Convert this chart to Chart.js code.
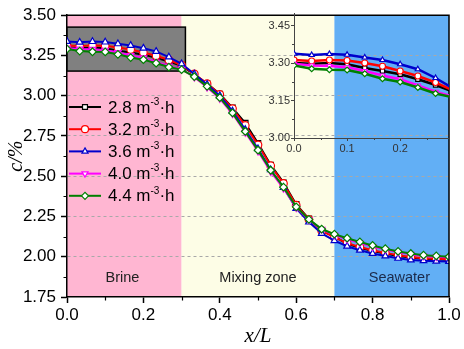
<!DOCTYPE html>
<html>
<head>
<meta charset="utf-8">
<script src="https://cdn.jsdelivr.net/npm/chart.js@4.4.0/dist/chart.umd.min.js"></script>
<style>
  body { margin: 0; background: #fff; }
  #wrap { position: relative; width: 464px; height: 349px; }
  #wrap canvas { position: absolute; left: 0; top: 0; }
  #inset { pointer-events: none; }
</style>
</head>
<body>
<div id="wrap">
  <canvas id="main" width="464" height="349"></canvas>
  <canvas id="inset" width="464" height="349"></canvas>
</div>
<script>
// positions along the column, x/L
const xPos = [0, 0.0333, 0.0667, 0.1, 0.1333, 0.1667, 0.2, 0.2333, 0.2667, 0.3,
  0.3333, 0.3667, 0.4, 0.4333, 0.4667, 0.5, 0.5333, 0.5667, 0.6, 0.6333,
  0.6667, 0.7, 0.7333, 0.7667, 0.8, 0.8333, 0.8667, 0.9, 0.9333, 0.9667, 1.0];

const flowLabels = ['2.8', '3.2', '3.6', '4.0', '4.4'];

const c28 = [3.300, 3.297, 3.300, 3.295, 3.280, 3.268, 3.255, 3.235, 3.212, 3.185,
  3.132, 3.075, 3.010, 2.925, 2.830, 2.705, 2.570, 2.460, 2.325, 2.235,
  2.160, 2.125, 2.080, 2.055, 2.035, 2.020, 2.005, 1.995, 1.988, 1.985, 1.982];
const c32 = [3.312, 3.308, 3.312, 3.310, 3.300, 3.287, 3.268, 3.248, 3.222, 3.190,
  3.135, 3.075, 3.008, 2.920, 2.815, 2.695, 2.565, 2.455, 2.320, 2.232,
  2.162, 2.120, 2.085, 2.060, 2.040, 2.024, 2.010, 1.998, 1.990, 1.987, 1.985];
const c36 = [3.337, 3.332, 3.336, 3.333, 3.322, 3.312, 3.295, 3.275, 3.240, 3.198,
  3.135, 3.070, 3.000, 2.905, 2.790, 2.670, 2.540, 2.430, 2.300, 2.215,
  2.145, 2.100, 2.065, 2.040, 2.020, 2.005, 1.990, 1.980, 1.975, 1.972, 1.970];
const c40 = [3.297, 3.290, 3.288, 3.283, 3.268, 3.250, 3.235, 3.210, 3.185, 3.165,
  3.115, 3.052, 2.982, 2.888, 2.772, 2.655, 2.528, 2.425, 2.305, 2.230,
  2.170, 2.135, 2.108, 2.085, 2.063, 2.045, 2.028, 2.015, 2.005, 2.000, 1.995];
const c44 = [3.290, 3.277, 3.273, 3.272, 3.257, 3.237, 3.224, 3.202, 3.178, 3.162,
  3.118, 3.058, 2.988, 2.893, 2.778, 2.662, 2.537, 2.432, 2.310, 2.232,
  2.172, 2.140, 2.115, 2.092, 2.070, 2.050, 2.033, 2.020, 2.010, 2.005, 2.000];

const zoneEdges = [0, 0.3, 0.7, 1.0];
const zoneNames = ['Brine', 'Mixing zone', 'Seawater'];
const zoneLabelX = [0.145, 0.5, 0.87];
const zoomBox = { x0: 0, x1: 0.31, y0: 3.153, y1: 3.426 };

const series = [c28, c32, c36, c40, c44];
const colors = ['#000000', '#ff0000', '#0000cc', '#ff00ff', '#008000'];
const pointStyles = ['rect', 'circle', 'triangle', 'triangle', 'rectRot'];
const rotations = [0, 0, 0, 180, 0];
const zoneColors = ['#ffb6d2', '#fdfde6', '#62aff5'];
const zoneText = ['#222', '#222', '#1b2a4a'];

const SANS = "'Liberation Sans', Arial, sans-serif";
const SERIF = "'Liberation Serif', 'Times New Roman', serif";

function makeDatasets(radius, width) {
  return series.map((vals, i) => ({
    label: flowLabels[i] + ' m⁻³·h',
    data: xPos.map((x, k) => ({ x: x, y: vals[k] })),
    borderColor: colors[i],
    borderWidth: width,
    pointStyle: pointStyles[i],
    pointRotation: rotations[i],
    pointRadius: radius,
    pointBorderWidth: 1.2,
    pointBackgroundColor: '#ffffff',
    pointBorderColor: colors[i],
    tension: 0,
    order: 4 - i
  }));
}

function minorTicks(ctx, a, x, y, yVals, xVals, len) {
  ctx.beginPath();
  yVals.forEach(v => {
    const py = Math.round(y.getPixelForValue(v)) + 0.5;
    ctx.moveTo(a.left, py); ctx.lineTo(a.left - len, py);
  });
  xVals.forEach(v => {
    const px = Math.round(x.getPixelForValue(v)) + 0.5;
    ctx.moveTo(px, a.bottom); ctx.lineTo(px, a.bottom + len);
  });
  ctx.stroke();
}

const decor = {
  id: 'decor',
  beforeDraw(chart) {
    const { ctx, chartArea: a, scales: { x } } = chart;
    ctx.save();
    for (let i = 0; i < zoneNames.length; i++) {
      const l = x.getPixelForValue(zoneEdges[i]);
      const r = x.getPixelForValue(zoneEdges[i + 1]);
      ctx.fillStyle = zoneColors[i];
      ctx.fillRect(l, a.top, r - l, a.bottom - a.top);
    }
    ctx.restore();
  },
  beforeDatasetsDraw(chart) {
    const { ctx, scales: { x, y } } = chart;
    const l = x.getPixelForValue(zoomBox.x0), r = x.getPixelForValue(zoomBox.x1);
    const t = y.getPixelForValue(zoomBox.y1), b = y.getPixelForValue(zoomBox.y0);
    ctx.save();
    ctx.fillStyle = '#808080';
    ctx.fillRect(l, t, r - l, b - t);
    ctx.strokeStyle = '#000';
    ctx.lineWidth = 1.5;
    ctx.strokeRect(l, t, r - l, b - t);
    ctx.restore();
  },
  afterDraw(chart) {
    const { ctx, chartArea: a, scales: { x, y } } = chart;
    ctx.save();
    // zone labels
    ctx.font = '14.5px ' + SANS;
    ctx.textAlign = 'center';
    ctx.textBaseline = 'middle';
    zoneNames.forEach((n, i) => {
      ctx.fillStyle = zoneText[i];
      ctx.fillText(n, x.getPixelForValue(zoneLabelX[i]), y.getPixelForValue(1.87));
    });
    // top and right frame
    ctx.strokeStyle = '#000';
    ctx.lineWidth = 1.5;
    ctx.beginPath();
    ctx.moveTo(a.left, a.top); ctx.lineTo(a.right, a.top); ctx.lineTo(a.right, a.bottom);
    ctx.stroke();
    ctx.lineWidth = 1.2;
    minorTicks(ctx, a, x, y, [1.875, 2.125, 2.375, 2.625, 2.875, 3.125, 3.375],
      [0.1, 0.3, 0.5, 0.7, 0.9], 3.5);
    // legend
    chart.data.datasets.forEach((ds, i) => {
      const ly = 107 + i * 22.2;
      ctx.strokeStyle = ds.borderColor;
      ctx.lineWidth = 2;
      ctx.beginPath(); ctx.moveTo(69, ly); ctx.lineTo(101, ly); ctx.stroke();
      ctx.fillStyle = '#fff';
      ctx.lineWidth = 1.2;
      Chart.helpers.drawPoint(ctx, { pointStyle: ds.pointStyle, radius: 3.5, rotation: ds.pointRotation, borderWidth: 1.2 }, 85, ly);
      ctx.fillStyle = '#000';
      ctx.textAlign = 'left';
      ctx.textBaseline = 'middle';
      let tx = 108;
      const head = flowLabels[i] + ' m';
      ctx.font = '17px ' + SANS;
      ctx.fillText(head, tx, ly + 1); tx += ctx.measureText(head).width;
      ctx.font = '10px ' + SANS;
      ctx.fillText('-3', tx, ly - 5); tx += ctx.measureText('-3').width;
      ctx.font = '17px ' + SANS;
      ctx.fillText('·h', tx, ly + 1);
    });
    ctx.restore();
  }
};

const insetTicks = {
  id: 'insetTicks',
  afterDraw(chart) {
    const { ctx, chartArea: a, scales: { x, y } } = chart;
    ctx.save();
    ctx.strokeStyle = '#444';
    ctx.lineWidth = 1;
    minorTicks(ctx, a, x, y, [3.075, 3.225, 3.375], [0.05, 0.15, 0.25], 2);
    ctx.restore();
  }
};

new Chart(document.getElementById('main'), {
  type: 'line',
  data: { datasets: makeDatasets(3.8, 2) },
  options: {
    responsive: false,
    animation: false,
    devicePixelRatio: 1,
    layout: { padding: { left: 0, top: 13, right: 15, bottom: 0 } },
    plugins: { legend: { display: false }, tooltip: { enabled: false } },
    scales: {
      x: {
        type: 'linear', min: 0, max: 1,
        afterFit(s) { s.height = 52; },
        ticks: { stepSize: 0.2, color: '#000', font: { family: SANS, size: 17 }, padding: 2, maxRotation: 0,
          callback: v => v.toFixed(1) },
        grid: { drawOnChartArea: false, tickColor: '#000', tickLength: 6, tickWidth: 1.5 },
        border: { color: '#000', width: 1.5 },
        title: { display: true, text: 'x/L', color: '#000', padding: 0,
          font: { family: SERIF, style: 'italic', size: 21 } }
      },
      y: {
        min: 1.75, max: 3.5,
        afterFit(s) { s.width = 67; },
        ticks: { stepSize: 0.25, color: '#000', font: { family: SANS, size: 17 }, padding: 5,
          callback: v => v.toFixed(2) },
        grid: {
          color: c => (c.tick && (c.tick.value < 1.76 || c.tick.value > 3.49)) ? 'rgba(0,0,0,0)' : '#a8a8a8',
          lineWidth: 1, tickColor: '#000', tickLength: 6, tickWidth: 1.5
        },
        border: { color: '#000', width: 1.5, dash: [3, 3] },
        title: { display: true, text: 'c/%', color: '#000', padding: { top: 5, bottom: 0 },
          font: { family: SERIF, style: 'italic', size: 20 } }
      }
    }
  },
  plugins: [decor]
});

new Chart(document.getElementById('inset'), {
  type: 'line',
  data: { datasets: makeDatasets(3, 2.5) },
  options: {
    responsive: false,
    animation: false,
    devicePixelRatio: 1,
    layout: { padding: { left: 0, top: 13, right: 15, bottom: 0 } },
    plugins: { legend: { display: false }, tooltip: { enabled: false } },
    scales: {
      x: {
        type: 'linear', min: 0, max: 0.292,
        afterFit(s) { s.height = 211; },
        ticks: { stepSize: 0.1, includeBounds: false, color: '#333', font: { family: SANS, size: 11 }, padding: 1,
          maxRotation: 0, callback: v => v.toFixed(1) },
        grid: { drawOnChartArea: false, tickColor: '#444', tickLength: 3, tickWidth: 1 },
        border: { color: '#444', width: 1 }
      },
      y: {
        min: 3.0, max: 3.5,
        afterFit(s) { s.width = 294; },
        ticks: { stepSize: 0.15, includeBounds: false, color: '#333', font: { family: SANS, size: 11 }, padding: 1,
          callback: v => v.toFixed(2) },
        grid: { drawOnChartArea: false, tickColor: '#444', tickLength: 3, tickWidth: 1 },
        border: { color: '#444', width: 1 }
      }
    }
  },
  plugins: [insetTicks]
});
</script>
</body>
</html>
